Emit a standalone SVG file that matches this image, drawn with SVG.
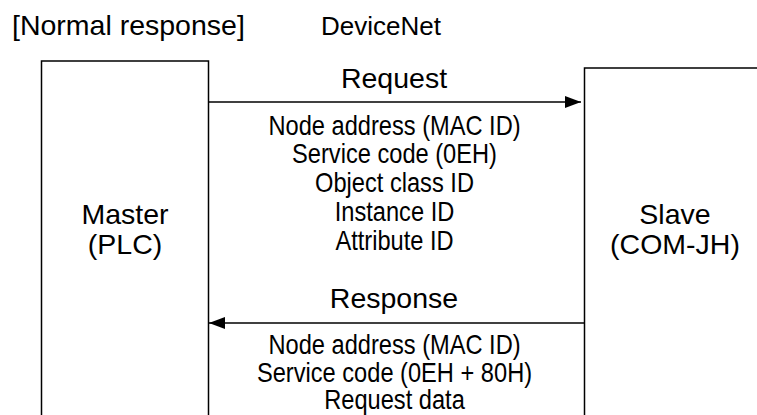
<svg xmlns="http://www.w3.org/2000/svg" width="757" height="415" viewBox="0 0 757 415">
<style>
text{font-family:"Liberation Sans",Arial,sans-serif;fill:#000}
.big{font-size:28.5px}
.mid{font-size:26px}
.body{font-size:27.5px;text-anchor:middle}
.c{text-anchor:middle}
.ln{stroke:#000;stroke-width:1.5;fill:none}
</style>
<defs>
<marker id="ah" markerWidth="16" markerHeight="12" refX="16" refY="6" orient="auto" markerUnits="userSpaceOnUse">
<path d="M0,0 L16,6 L0,12 Z" fill="#000"/>
</marker>
</defs>
<rect width="757" height="415" fill="#fff"/>
<text class="big" x="12" y="35">[Normal response]</text>
<text class="mid" x="321" y="35">DeviceNet</text>
<g id="master">
<path class="ln" d="M41.5,420 V61 H208.5 V420"/>
<text class="big c" x="125" y="224">Master</text>
<text class="big c" x="125" y="254">(PLC)</text>
</g>
<g id="slave">
<path class="ln" d="M760,68 H584.5 V420"/>
<text class="big c" x="675" y="224">Slave</text>
<text class="big c" x="675" y="254">(COM-JH)</text>
</g>
<g id="connectors">
<line class="ln" x1="208.5" y1="102" x2="581" y2="102" marker-end="url(#ah)"/>
<line class="ln" x1="584.5" y1="323" x2="209" y2="323" marker-end="url(#ah)"/>
</g>
<g id="request-label">
<text class="big c" x="394" y="88">Request</text>
<g transform="translate(394.5,0) scale(0.86,1)">
<text class="body" x="0" y="135">Node address (MAC ID)</text>
<text class="body" x="0" y="163">Service code (0EH)</text>
<text class="body" x="0" y="192.5">Object class ID</text>
<text class="body" x="0" y="221.5">Instance ID</text>
<text class="body" x="0" y="250">Attribute ID</text>
</g>
</g>
<g id="response-label">
<text class="big c" x="394" y="308">Response</text>
<g transform="translate(394.5,0) scale(0.86,1)">
<text class="body" x="0" y="354">Node address (MAC ID)</text>
<text class="body" x="0" y="382">Service code (0EH + 80H)</text>
<text class="body" x="0" y="409">Request data</text>
</g>
</g>
</svg>
